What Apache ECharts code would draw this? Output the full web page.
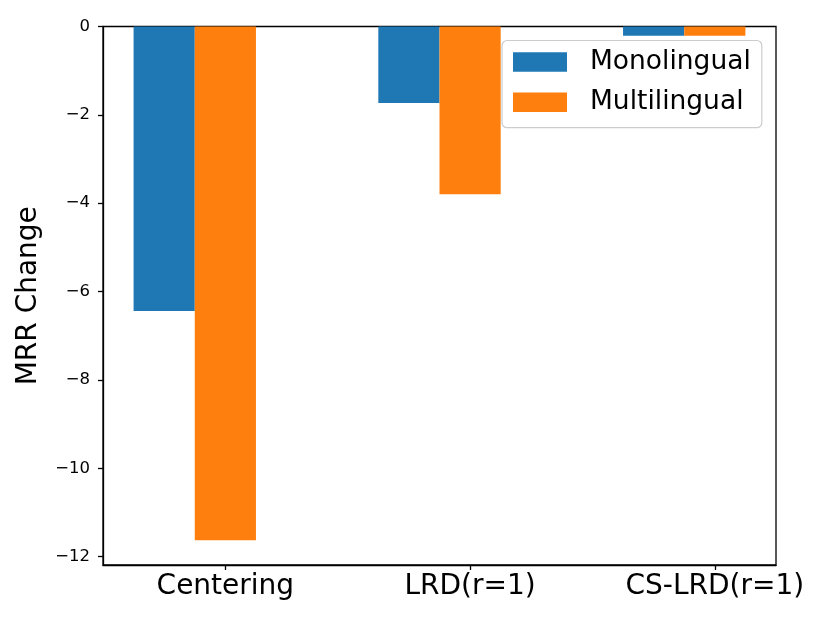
<!DOCTYPE html>
<html>
<head>
<meta charset="utf-8">
<script src="https://cdn.jsdelivr.net/npm/echarts@6/dist/echarts.min.js"></script>
<style>html,body{margin:0;padding:0;background:#fff}#c{width:830px;height:623px}</style>
</head>
<body>
<div id="c"></div>
<script>
const categories = ['Centering', 'LRD(r=1)', 'CS-LRD(r=1)'];
const seriesNames = ['Monolingual', 'Multilingual'];
const monolingual = [-6.44, -1.73, -0.21];
const multilingual = [-11.63, -3.80, -0.21];
const yTicks = [-12, -10, -8, -6, -4, -2, 0];
const xTicks = [0, 1, 2];

const colors = ['#1f77b4', '#ff7f0e'];
const barW = 0.25;
const offsets = [-0.25, 0];
const FONT = 'DejaVu Sans';

function makeSeries(name, values, idx) {
  return {
    name: name,
    type: 'custom',
    itemStyle: { color: colors[idx] },
    encode: { x: 0, y: 1 },
    data: values.map((v, i) => [i + offsets[idx], v]),
    renderItem: function (params, api) {
      const x = api.value(0), y = api.value(1);
      const p0 = api.coord([x - barW / 2, 0]);
      const p1 = api.coord([x + barW / 2, y]);
      return {
        type: 'rect',
        shape: { x: p0[0], y: p0[1], width: p1[0] - p0[0], height: p1[1] - p0[1] },
        style: { fill: colors[idx] }
      };
    }
  };
}

const chart = echarts.init(document.getElementById('c'), null, { renderer: 'canvas' });
chart.setOption({
  animation: false,
  backgroundColor: '#fff',
  textStyle: { fontFamily: FONT },
  grid: {
    left: 103, right: 54, top: 26.5, bottom: 58,
    show: true, borderColor: '#000', borderWidth: 1.3, backgroundColor: 'transparent'
  },
  legend: {
    orient: 'vertical',
    left: 502, top: 40.5,
    data: seriesNames.map(n => ({ name: n, icon: 'rect' })),
    itemWidth: 54, itemHeight: 19.5, itemGap: 13.2,
    padding: [8, 11, 12, 11],
    borderColor: '#cccccc', borderWidth: 1.2, borderRadius: 5,
    backgroundColor: 'rgba(255,255,255,0.8)',
    textStyle: { fontFamily: FONT, fontSize: 26.5, color: '#000', padding: [0, 0, 0, 18] }
  },
  xAxis: {
    type: 'value', min: -0.5, max: 2.25,
    splitLine: { show: false },
    axisLine: { show: true, onZero: false, lineStyle: { color: '#000', width: 1.3 } },
    axisTick: { show: true, length: 5, customValues: xTicks, lineStyle: { color: '#000', width: 1.3 } },
    axisLabel: {
      customValues: xTicks, margin: 8,
      fontFamily: FONT, fontSize: 28, color: '#000',
      formatter: v => categories[Math.round(v)]
    }
  },
  yAxis: {
    type: 'value', min: -12.19, max: 0,
    name: 'MRR Change', nameLocation: 'middle', nameGap: 60,
    nameTextStyle: { fontFamily: FONT, fontSize: 28, color: '#000' },
    splitLine: { show: false },
    axisLine: { show: true, onZero: false, lineStyle: { color: '#000', width: 1.3 } },
    axisTick: { show: true, length: 5, customValues: yTicks, lineStyle: { color: '#000', width: 1.3 } },
    axisLabel: {
      customValues: yTicks, margin: 13,
      fontFamily: FONT, fontSize: 16.5, color: '#000',
      formatter: v => (v < 0 ? '\u2212' + Math.abs(v) : String(v))
    }
  },
  series: [makeSeries(seriesNames[0], monolingual, 0), makeSeries(seriesNames[1], multilingual, 1)]
});
</script>
</body>
</html>
